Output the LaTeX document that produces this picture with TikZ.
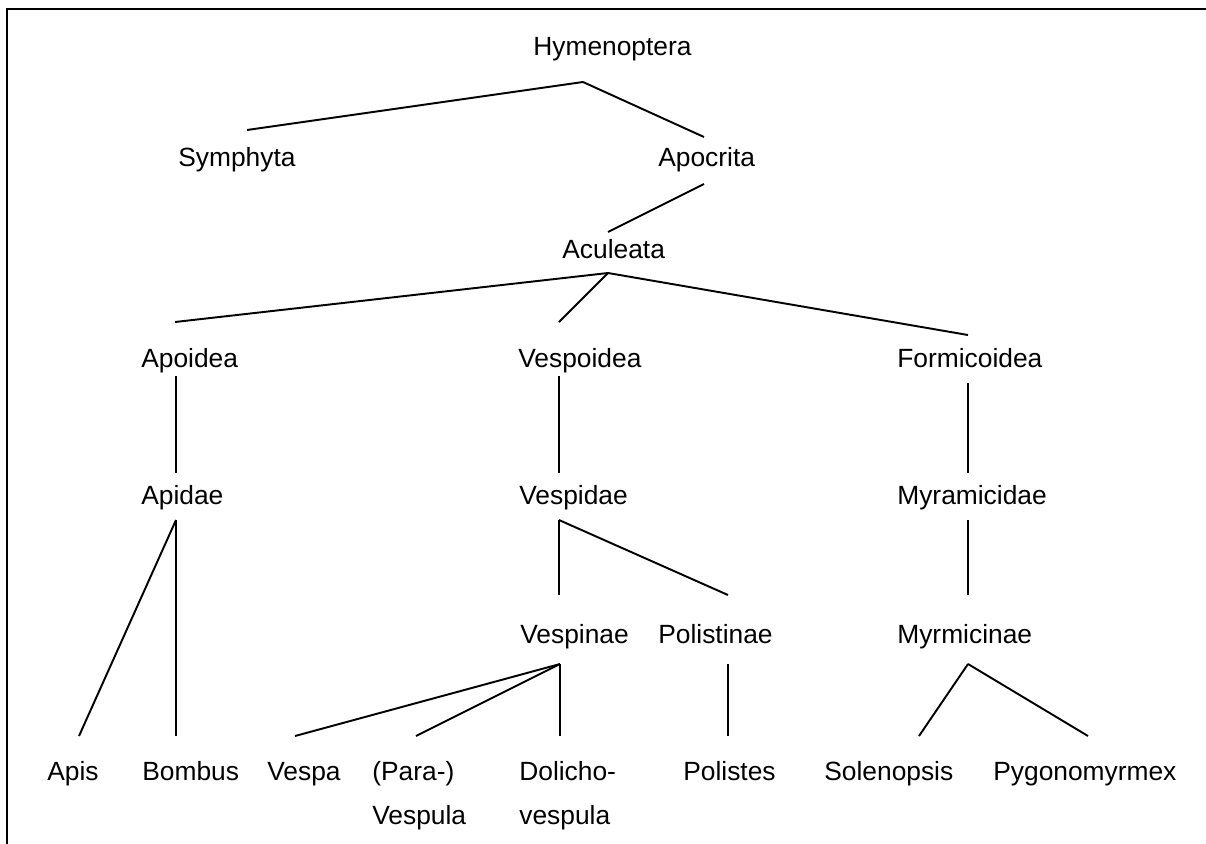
\documentclass[tikz,border=0pt]{standalone}
\usepackage{fontspec}
\setmainfont{Liberation Sans}
\usetikzlibrary{positioning}

\begin{document}
\begin{tikzpicture}[
  x=0.02cm,y=-0.02cm,
  taxon/.style={anchor=base west,inner sep=0pt,
                font=\fontsize{15}{25}\selectfont},
  branch/.style={line width=1.1pt},
  frame/.style={line width=1.2pt}
]
\useasboundingbox (0,0) rectangle (1206,843);

% Frame (top and left edge only)
\draw[frame] (1220,9) -- (7,9) -- (7,860);

% Order and suborders
\node[taxon] (hym)  at (533,55)  {Hymenoptera};
\node[taxon] (sym)  at (178,166) {Symphyta};
\node[taxon] (apo)  at (658,166) {Apocrita};
\node[taxon] (acu)  at (562,258) {Aculeata};

% Superfamilies
\node[taxon] (apoi) at (141,367) {Apoidea};
\node[taxon] (vesp) at (518,367) {Vespoidea};
\node[taxon] (form) at (897,367) {Formicoidea};

% Families
\node[taxon] (apid)  at (141,504) {Apidae};
\node[taxon] (vespd) at (519,504) {Vespidae};
\node[taxon] (myra)  at (897,504) {Myramicidae};

% Subfamilies
\node[taxon] (vespn) at (520,643) {Vespinae};
\node[taxon] (poln)  at (658,643) {Polistinae};
\node[taxon] (myrm)  at (897,643) {Myrmicinae};

% Genera (two-line ones sit on their last baseline)
\node[taxon] (apis)  at (47,780)  {Apis};
\node[taxon] (bomb)  at (142,780) {Bombus};
\node[taxon] (vespa) at (267,780) {Vespa};
\node[taxon,align=left] (para) at (372,824) {(Para-)\\Vespula};
\node[taxon,align=left] (doli) at (519,824) {Dolicho-\\vespula};
\node[taxon] (polis) at (683,780) {Polistes};
\node[taxon] (solen) at (824,780) {Solenopsis};
\node[taxon] (pygo)  at (993,780) {Pygonomyrmex};

% Branches
\draw[branch] ([shift={(50,27)}]hym.base west) -- ([shift={(69,-36)}]sym.base west);
\draw[branch] ([shift={(50,27)}]hym.base west) -- ([shift={(46,-29)}]apo.base west);
\draw[branch] ([shift={(46,18)}]apo.base west) -- ([shift={(46,-26)}]acu.base west);

\draw[branch] ([shift={(46,15)}]acu.base west) -- ([shift={(34,-45)}]apoi.base west);
\draw[branch] ([shift={(46,15)}]acu.base west) -- ([shift={(41,-45)}]vesp.base west);
\draw[branch] ([shift={(46,15)}]acu.base west) -- ([shift={(71,-32)}]form.base west);

\draw[branch] ([shift={(35,9)}]apoi.base west) -- ([shift={(35,-31)}]apid.base west);
\draw[branch] ([shift={(41,9)}]vesp.base west) -- ([shift={(40,-31)}]vespd.base west);
\draw[branch] ([shift={(71,16)}]form.base west) -- ([shift={(71,-31)}]myra.base west);

\draw[branch] ([shift={(35,16)}]apid.base west) -- ([shift={(32,-44)}]apis.base west);
\draw[branch] ([shift={(35,16)}]apid.base west) -- ([shift={(34,-44)}]bomb.base west);
\draw[branch] ([shift={(40,16)}]vespd.base west) -- ([shift={(39,-48)}]vespn.base west);
\draw[branch] ([shift={(40,16)}]vespd.base west) -- ([shift={(70,-48)}]poln.base west);
\draw[branch] ([shift={(71,16)}]myra.base west) -- ([shift={(71,-48)}]myrm.base west);

\draw[branch] ([shift={(40,21)}]vespn.base west) -- ([shift={(28,-44)}]vespa.base west);
\draw[branch] ([shift={(40,21)}]vespn.base west) -- ([shift={(44,-88)}]para.base west);
\draw[branch] ([shift={(40,21)}]vespn.base west) -- ([shift={(41,-88)}]doli.base west);
\draw[branch] ([shift={(70,21)}]poln.base west) -- ([shift={(45,-44)}]polis.base west);
\draw[branch] ([shift={(71,21)}]myrm.base west) -- ([shift={(95,-44)}]solen.base west);
\draw[branch] ([shift={(71,21)}]myrm.base west) -- ([shift={(95,-44)}]pygo.base west);

\end{tikzpicture}
\end{document}
